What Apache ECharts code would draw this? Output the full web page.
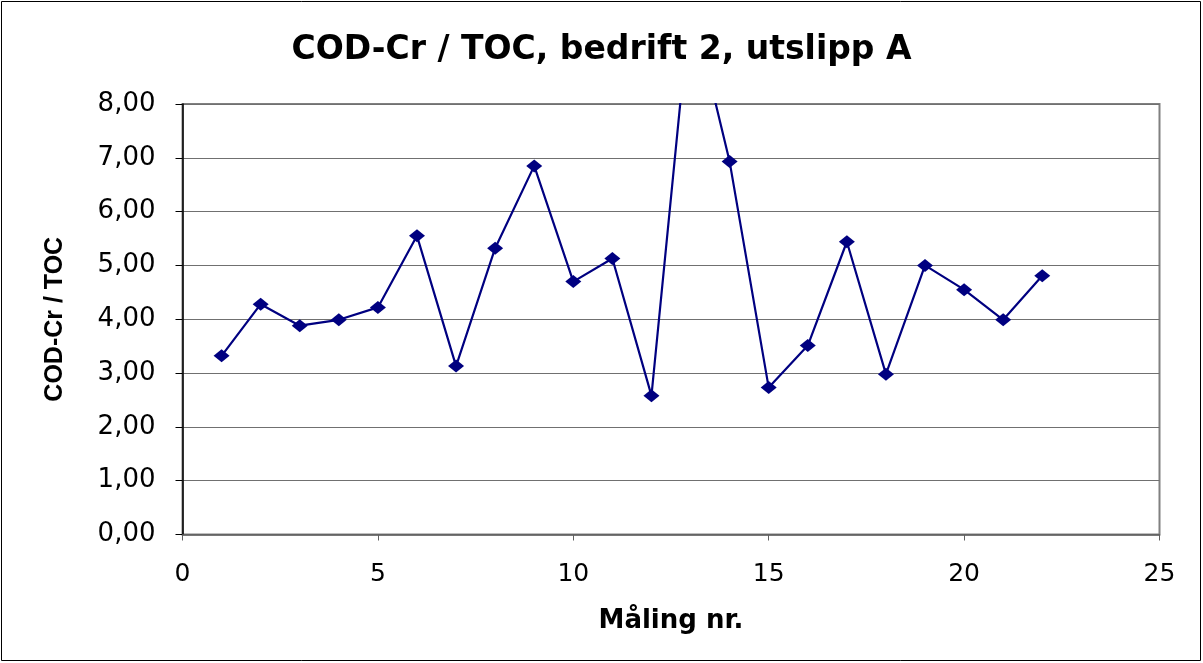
<!DOCTYPE html>
<html>
<head>
<meta charset="utf-8">
<script src="https://cdn.jsdelivr.net/npm/echarts@6/dist/echarts.min.js"></script>
<style>
html,body{margin:0;padding:0;background:#fff;}
#chart{width:1203px;height:663px;}
</style>
</head>
<body>
<div id="chart"></div>
<script>
// Data
const measurementNo = [1,2,3,4,5,6,7,8,9,10,11,12,13,14,15,16,17,18,19,20,21,22];
const ratioValues = [3.32,4.28,3.88,3.99,4.22,5.55,3.13,5.32,6.85,4.70,5.13,2.58,9.95,6.93,2.73,3.51,5.44,2.98,5.00,4.55,3.99,4.81];
const titleText = 'COD-Cr / TOC, bedrift 2, utslipp A';
const xName = 'Måling nr.';
const yName = 'COD-Cr / TOC';

const seriesData = measurementNo.map((x, i) => [x, ratioValues[i]]);

const chart = echarts.init(document.getElementById('chart'), null, {renderer: 'canvas'});
const wide = 'DejaVu Sans, Liberation Sans, Arial, sans-serif';
const narrow = 'Liberation Sans, Arial, sans-serif';
chart.setOption({
  animation: false,
  backgroundColor: '#ffffff',
  title: {
    text: titleText,
    left: 'center',
    top: 29,
    textStyle: {fontFamily: wide, fontSize: 33, fontWeight: 'bold', color: '#000'}
  },
  graphic: [{
    type: 'rect',
    shape: {x: 1.5, y: 1.5, width: 1199, height: 659},
    style: {fill: 'none', stroke: '#000', lineWidth: 1},
    silent: true
  }],
  grid: {
    left: 182.5, right: 43.5, top: 104, bottom: 128.5,
    show: true, borderColor: '#808080', borderWidth: 2, backgroundColor: 'transparent'
  },
  xAxis: {
    type: 'value', min: 0, max: 25, interval: 5,
    name: xName, nameLocation: 'middle', nameGap: 74,
    nameTextStyle: {fontFamily: wide, fontSize: 26, fontWeight: 'bold', color: '#000'},
    axisLine: {show: true, onZero: false, lineStyle: {color: '#606060', width: 1.5}},
    axisTick: {show: true, inside: false, length: 6, lineStyle: {color: '#606060'}},
    axisLabel: {fontFamily: wide, fontSize: 25, color: '#000', margin: 27},
    splitLine: {show: false}
  },
  yAxis: {
    type: 'value', min: 0, max: 8, interval: 1,
    name: yName, nameLocation: 'middle', nameGap: 115, nameRotate: 90,
    nameTextStyle: {fontFamily: narrow, fontSize: 25, fontWeight: 'bold', color: '#000'},
    axisLine: {show: true, lineStyle: {color: '#000', width: 1.5}},
    axisTick: {show: true, inside: false, length: 7, lineStyle: {color: '#000'}},
    axisLabel: {fontFamily: wide, fontSize: 26, color: '#000', margin: 27,
      formatter: v => v.toFixed(2).replace('.', ',')},
    splitLine: {show: true, lineStyle: {color: '#707070', width: 1}}
  },
  series: [{
    type: 'line',
    data: seriesData,
    clip: true,
    symbol: 'diamond',
    symbolSize: [16, 13],
    itemStyle: {color: '#000080'},
    lineStyle: {color: '#000080', width: 2.2},
    emphasis: {disabled: true}
  }]
});
</script>
</body>
</html>
